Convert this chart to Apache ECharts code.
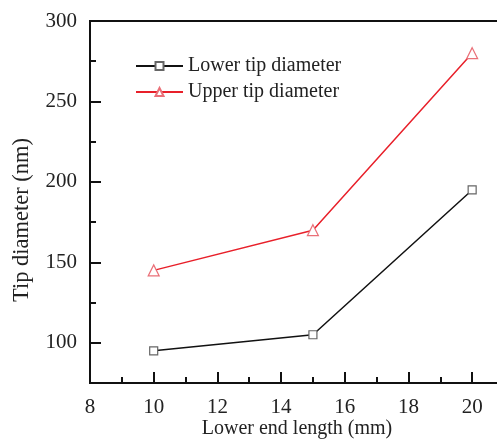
<!DOCTYPE html>
<html><head><meta charset="utf-8">
<script src="https://cdn.jsdelivr.net/npm/echarts@6/dist/echarts.min.js"></script>
<style>html,body{margin:0;padding:0;background:#fff}#c{width:497px;height:441px}</style>
</head><body><div id="c"></div>
<script>
const xValues = [10, 15, 20];
const lowerTip = [95, 105, 195];
const upperTip = [145, 170, 280];
const seriesNames = ['Lower tip diameter', 'Upper tip diameter'];
const xTitle = 'Lower end length (mm)';
const yTitle = 'Tip diameter (nm)';

const F = 'Liberation Serif, Times New Roman, serif';
const chart = echarts.init(document.getElementById('c'));
const axisLineStyle = {color: '#111', width: 2};
const tickStyle = {color: '#111', width: 2};
chart.setOption({
  animation: false,
  grid: [
    {left: 90, top: 21, width: 414, height: 362, show: true, borderColor: '#111', borderWidth: 2, outerBoundsMode: 'none', containLabel: false},
    {left: 90, top: 21, width: 414, height: 362 * 200 / 225, show: false, outerBoundsMode: 'none', containLabel: false}
  ],
  legend: {
    orient: 'vertical', left: 130, top: 51, itemWidth: 47, itemHeight: 10, itemGap: 6,
    textStyle: {fontFamily: F, fontSize: 20, color: '#222'},
    data: seriesNames
  },
  graphic: [{
    type: 'text', x: 22, y: 220, rotation: Math.PI / 2,
    style: {text: yTitle, fontFamily: F, fontSize: 22.5, fill: '#222', align: 'center', verticalAlign: 'middle'}
  }, {
    type: 'text', x: 297, y: 429,
    style: {text: xTitle, fontFamily: F, fontSize: 20, fill: '#222', align: 'center', verticalAlign: 'middle'}
  }],
  xAxis: [{
    gridIndex: 0, type: 'value', min: 8, max: 21, interval: 1, position: 'bottom',
    axisLine: {lineStyle: axisLineStyle},
    axisTick: {inside: true, length: 6, lineStyle: tickStyle},
    axisLabel: {fontFamily: F, fontSize: 21, color: '#222', margin: 14,
      formatter: v => (v % 2 === 0 ? String(v) : '')},
    splitLine: {show: false}
  }, {
    gridIndex: 0, type: 'value', min: 8, max: 21, interval: 2, position: 'bottom', offset: 0,
    axisLine: {show: false},
    axisTick: {show: true, inside: true, length: 11, lineStyle: tickStyle},
    axisLabel: {show: false}, splitLine: {show: false}
  }, {
    gridIndex: 1, type: 'value', min: 8, max: 21, show: false
  }],
  yAxis: [{
    gridIndex: 0, type: 'value', min: 75, max: 300, interval: 25, position: 'left',
    axisLine: {show: true, lineStyle: axisLineStyle},
    axisTick: {show: true, inside: true, length: 6, lineStyle: tickStyle},
    axisLabel: {fontFamily: F, fontSize: 21, color: '#222', margin: 13,
      formatter: v => (v % 50 === 0 ? String(v) : '')},
    splitLine: {show: false}
  }, {
    gridIndex: 1, type: 'value', min: 100, max: 300, interval: 50, position: 'left',
    axisLine: {show: false},
    axisTick: {show: true, inside: true, length: 11, lineStyle: tickStyle},
    axisLabel: {show: false}, splitLine: {show: false}
  }],
  series: [{
    name: seriesNames[0], type: 'line', xAxisIndex: 0, yAxisIndex: 0,
    data: xValues.map((x, i) => [x, lowerTip[i]]),
    symbol: 'rect', symbolSize: 8,
    lineStyle: {color: '#111', width: 1.5},
    itemStyle: {color: '#fff', borderColor: '#666', borderWidth: 1.2}
  }, {
    name: seriesNames[1], type: 'line', xAxisIndex: 0, yAxisIndex: 0,
    data: xValues.map((x, i) => [x, upperTip[i]]),
    symbol: 'triangle', symbolSize: 11,
    lineStyle: {color: '#e8202a', width: 1.5},
    itemStyle: {color: '#fff', borderColor: '#ea7078', borderWidth: 1.2}
  }]
});
</script></body></html>
